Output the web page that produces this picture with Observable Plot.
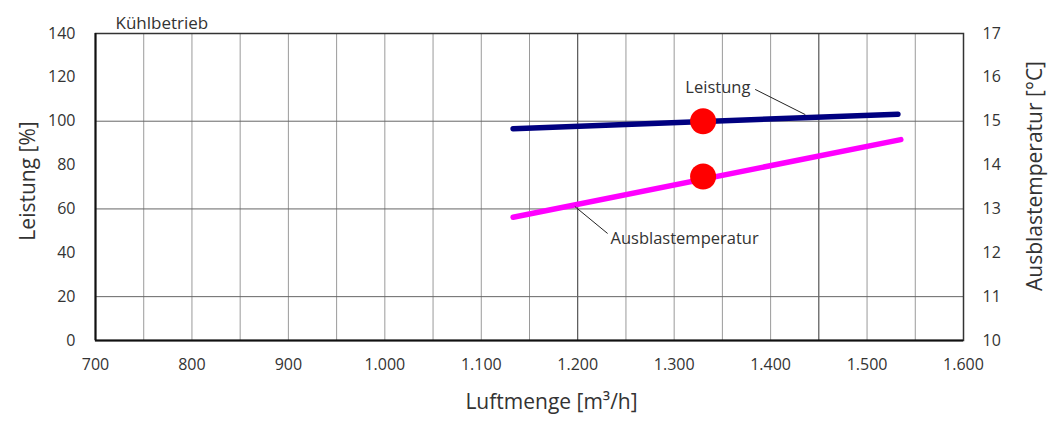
<!DOCTYPE html>
<html><head><meta charset="utf-8">
<script src="https://cdn.jsdelivr.net/npm/d3@7"></script>
<script src="https://cdn.jsdelivr.net/npm/@observablehq/plot@0.6"></script>
<style>body{margin:0;background:#fff} #chart{width:1053px;height:425px}</style>
</head><body><div id="chart"></div>
<script>
// ---- data ----
const title = "Kühlbetrieb";
const xLabel = "Luftmenge [m³/h]";
const yLabelLeft = "Leistung [%]";
const yLabelRight = "Ausblastemperatur [°C]";
const xTicks = [700, 800, 900, 1000, 1100, 1200, 1300, 1400, 1500, 1600];
const xGrid = [750, 800, 850, 900, 950, 1000, 1050, 1100, 1150, 1250, 1300, 1350, 1400, 1500, 1550];
const xGridDark = [1200, 1450];
const leistungTicks = [0, 20, 40, 60, 80, 100, 120, 140];
const leistungGrid = [20, 60, 100];
const tempTicks = [10, 11, 12, 13, 14, 15, 16, 17];
const tempMin = 10, tempPerLeistung = 20; // right axis 10..17 °C spans 0..140 %

const leistungX = [1133, 1532];
const leistungY = [96.6, 103.2];
const tempX = [1133, 1535];
const tempY = [12.81, 14.58];
const pointX = [1330];
const pointLeistung = [100];
const pointTemp = [13.74];

const annoLabels = ["Leistung", "Ausblastemperatur"];
const annoTextX = [1379, 1234];
const annoTextY = [115.4, 46.5];
const leaderX1 = [1384, 1197];
const leaderY1 = [114.5, 61.1];
const leaderX2 = [1436, 1231];
const leaderY2 = [103, 48.8];

// ---- build ----
const toY = t => (t - tempMin) * tempPerLeistung;
const leistung = leistungX.map((x, i) => ({x, y: leistungY[i]}));
const temp = tempX.map((x, i) => ({x, y: toY(tempY[i])}));
const points = [
  ...pointX.map((x, i) => ({x, y: pointLeistung[i]})),
  ...pointX.map((x, i) => ({x, y: toY(pointTemp[i])}))
];
const annos = annoLabels.map((t, i) => ({t, x: annoTextX[i], y: annoTextY[i],
  x1: leaderX1[i], y1: leaderY1[i], x2: leaderX2[i], y2: leaderY2[i]}));
const fmtX = d => d >= 1000 ? (d / 1000).toFixed(3) : String(d);
const font = "'Open Sans', 'Noto Sans', sans-serif";

const chart = Plot.plot({
  width: 1053, height: 425,
  marginLeft: 95, marginRight: 90, marginTop: 33, marginBottom: 85,
  style: {fontFamily: font, color: "#333", background: "#fff"},
  x: {domain: [700, 1600]},
  y: {domain: [0, 140]},
  marks: [
    Plot.ruleX(xGrid, {stroke: "#9a9a9a", strokeWidth: 1}),
    Plot.ruleX(xGridDark, {stroke: "#333", strokeWidth: 1}),
    Plot.ruleY(leistungGrid, {stroke: "#666", strokeWidth: 1}),
    Plot.frame({stroke: "#333", strokeWidth: 1.5}),
    Plot.ruleX([700], {stroke: "#111", strokeWidth: 2}),
    Plot.ruleY([0], {stroke: "#111", strokeWidth: 2}),
    Plot.line(leistung, {x: "x", y: "y", stroke: "#000080", strokeWidth: 5.5}),
    Plot.line(temp, {x: "x", y: "y", stroke: "#ff00ff", strokeWidth: 5.5}),
    Plot.link(annos, {x1: "x1", y1: "y1", x2: "x2", y2: "y2", stroke: "#222", strokeWidth: 1}),
    Plot.dot(points, {x: "x", y: "y", r: 13, fill: "#ff0000", stroke: "none"}),
    Plot.text(annos.slice(0, 1), {x: "x", y: "y", text: "t", textAnchor: "end", fontSize: 16.5, fill: "#333"}),
    Plot.text(annos.slice(1), {x: "x", y: "y", text: "t", textAnchor: "start", fontSize: 16.5, fill: "#333"}),
    Plot.axisX(xTicks, {tickSize: 0, tickPadding: 18, tickFormat: fmtX, fontSize: 16, label: null}),
    Plot.axisY(leistungTicks, {anchor: "left", tickSize: 0, tickPadding: 20, fontSize: 16, label: null}),
    Plot.axisY(tempTicks.map(toY), {anchor: "right", tickSize: 0, tickPadding: 19, fontSize: 16, label: null,
      tickFormat: d => String(Math.round(d / tempPerLeistung + tempMin))}),
    Plot.text([xLabel], {frameAnchor: "bottom", dy: 68, dx: 22, fontSize: 21, fill: "#333"}),
    Plot.text([yLabelLeft], {frameAnchor: "left", textAnchor: "middle", rotate: -90, dx: -67, dy: -6, fontSize: 21, fill: "#333"}),
    Plot.text([yLabelRight], {frameAnchor: "right", textAnchor: "middle", rotate: -90, dx: 72, dy: -11, fontSize: 21, fill: "#333"}),
    Plot.text([title], {frameAnchor: "top-left", textAnchor: "start", dx: 20, dy: -17, fontSize: 17, fill: "#333"})
  ]
});
document.getElementById("chart").appendChild(chart);
</script>
</body></html>
